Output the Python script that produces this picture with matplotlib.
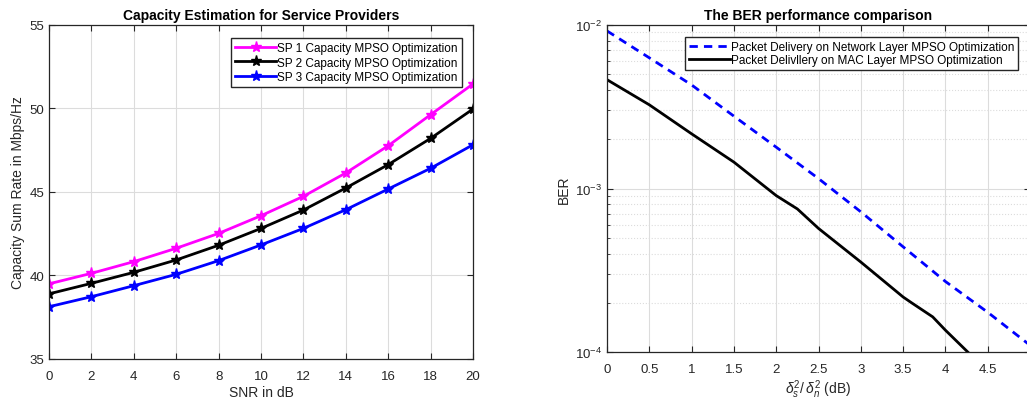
import numpy as np
import matplotlib.pyplot as plt

plt.rcParams['font.family'] = ['Liberation Sans', 'DejaVu Sans']
plt.rcParams['mathtext.fontset'] = 'custom'
plt.rcParams['mathtext.it'] = 'Liberation Sans:italic'
plt.rcParams['mathtext.rm'] = 'Liberation Sans'

# left panel data
snr = [0, 2, 4, 6, 8, 10, 12, 14, 16, 18, 20]
sp1 = [39.5, 40.13, 40.83, 41.63, 42.52, 43.58, 44.74, 46.14, 47.77, 49.63, 51.47]
sp2 = [38.9, 39.53, 40.19, 40.93, 41.81, 42.82, 43.92, 45.24, 46.64, 48.21, 49.97]
sp3 = [38.13, 38.73, 39.39, 40.07, 40.89, 41.83, 42.82, 43.94, 45.18, 46.42, 47.83]
sp_labels = ['SP 1 Capacity MPSO Optimization',
             'SP 2 Capacity MPSO Optimization',
             'SP 3 Capacity MPSO Optimization']

# right panel data
x_net = [0, 0.5, 1, 1.5, 2, 2.5, 3, 3.5, 4, 4.5, 5]
ber_net = [9.2e-3, 6.3e-3, 4.3e-3, 2.77e-3, 1.79e-3, 1.15e-3, 7.2e-4, 4.4e-4, 2.7e-4, 1.75e-4, 1.1e-4]
x_mac = [0, 0.5, 1, 1.5, 2, 2.25, 2.5, 3, 3.5, 3.6, 3.85, 4, 4.5]
ber_mac = [4.63e-3, 3.25e-3, 2.16e-3, 1.45e-3, 9.05e-4, 7.5e-4, 5.7e-4, 3.55e-4, 2.17e-4, 2.0e-4, 1.64e-4, 1.36e-4, 7.6e-5]
ber_labels = ['Packet Delivery on Network Layer MPSO Optimization',
              'Packet Delivllery on MAC Layer MPSO Optimization']

txt = '#262626'

fig = plt.figure(figsize=(10.27, 4.02), dpi=100)

######### left: capacity ############
ax1 = fig.add_axes([49/1027, 1-360/402, (473-49)/1027, (360-26)/402])
ax1.plot(snr, sp1, '-*', color='#ff00ff', lw=2, ms=8, label=sp_labels[0])
ax1.plot(snr, sp2, '-*', color='black', lw=2, ms=8, label=sp_labels[1])
ax1.plot(snr, sp3, '-*', color='blue', lw=2, ms=8, label=sp_labels[2])
ax1.set_xlim(0, 20)
ax1.set_ylim(35, 55)
ax1.set_xticks(range(0, 21, 2))
ax1.set_yticks([35, 40, 45, 50, 55])
ax1.grid(True, color='#dcdcdc', lw=0.8)
ax1.set_title('Capacity Estimation for Service Providers', fontsize=10, fontweight='bold', pad=4)
ax1.set_xlabel('SNR in dB', fontsize=10, color=txt, labelpad=2)
ax1.set_ylabel('Capacity Sum Rate in Mbps/Hz', fontsize=10, color=txt, labelpad=3)
ax1.legend(loc='upper right', bbox_to_anchor=(0.974, 0.961), fontsize=8.5, fancybox=False,
           edgecolor='#262626', framealpha=1, handlelength=3.5, borderpad=0.35,
           labelspacing=0.2, handletextpad=0.1, borderaxespad=0)

######### right: BER ############
ax2 = fig.add_axes([607/1027, 1-353/402, (1030-607)/1027, (353-26)/402])
ax2.semilogy(x_net, ber_net, '--', color='blue', lw=2, dashes=(3, 2.2), label=ber_labels[0])
ax2.semilogy(x_mac, ber_mac, '-', color='black', lw=2, label=ber_labels[1])
ax2.set_xlim(0, 5)
ax2.set_ylim(1e-4, 1e-2)
ax2.set_xticks(np.arange(0, 5.01, 0.5))
ax2.set_xticklabels(['0', '0.5', '1', '1.5', '2', '2.5', '3', '3.5', '4', '4.5', '5'])
ax2.grid(True, which='major', color='#dcdcdc', lw=0.8)
ax2.grid(True, which='minor', axis='y', color='#dcdcdc', lw=0.8, ls=':')
ax2.set_title('The BER performance comparison', fontsize=10, fontweight='bold', pad=4)
ax2.set_xlabel(r'$\delta_s^2/\,\delta_n^2$ (dB)', fontsize=10, color=txt, labelpad=2)
ax2.set_ylabel('BER', fontsize=10, color=txt, labelpad=3)
ax2.legend(loc='upper right', bbox_to_anchor=(0.972, 0.963), fontsize=8.5, fancybox=False,
           edgecolor='#262626', framealpha=1, handlelength=3.5, borderpad=0.3,
           labelspacing=0.15, handletextpad=0.1, borderaxespad=0)

for ax in (ax1, ax2):
    ax.tick_params(which='both', direction='in', top=True, right=True, labelsize=9.5,
                   labelcolor=txt, color='#262626')
    ax.tick_params(which='major', length=4)
    ax.tick_params(which='minor', length=2)
    ax.tick_params(axis='x', which='major', pad=8)
    for s in ax.spines.values():
        s.set_color('#262626')
        s.set_linewidth(0.9)

fig.savefig('out.png', dpi=100)
